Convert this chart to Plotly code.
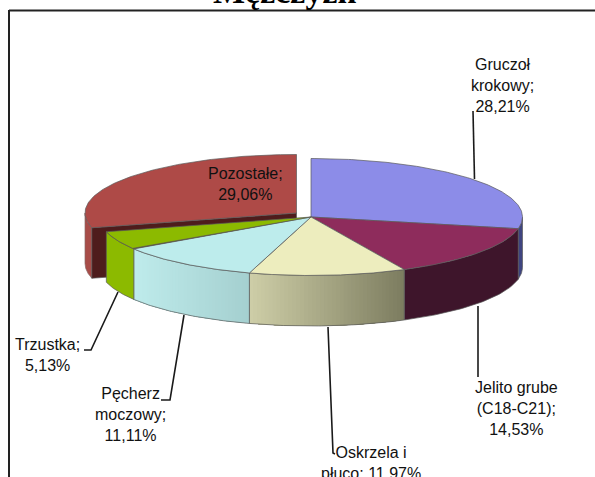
import numpy as np
import plotly.graph_objects as go

# ---- data ----
categories = ["Gruczoł krokowy", "Jelito grube (C18-C21)", "Oskrzela i płuco",
              "Pęcherz moczowy", "Trzustka", "Pozostałe"]
values = [28.21, 14.53, 11.97, 11.11, 5.13, 29.06]
value_labels = ["28,21%", "14,53%", "11,97%", "11,11%", "5,13%", "29,06%"]
title_text = "Mężczyzn"

label_texts = ["Gruczoł<br>krokowy;<br>28,21%", "Jelito grube<br>(C18-C21);<br>14,53%",
               "Oskrzela i<br>płuco; 11,97%", "Pęcherz<br>moczowy;<br>11,11%",
               "Trzustka;<br>5,13%", "Pozostałe;<br>29,06%"]
label_pos = [(502, 85), (516.5, 408), (371, 463), (130, 414), (47, 355), (245, 184)]
leaders = [[(473, 111), (474.5, 179)], [(478, 306), (478, 377)],
           [(328, 327), (333, 453), (335, 454)], [(184, 315), (170, 400), (161, 400)],
           [(118, 292), (91, 350), (84, 350)]]

top_colors = ["#8c8ce8", "#8e2c5c", "#ededbe", "#bdecec", "#8cba00", "#ae4a47"]
wall_right = ["#3f4580", "#3e152b", "#7d7d60", "#a5d0d0", "#8cba00", "#a84c48"]
wall_left = ["#3f4580", "#3e152b", "#cfcfa8", "#bfecec", "#8cba00", "#a84c48"]
cut_color = "#4e1c1c"
edge = "#5a5a5a"

# ---- pie geometry ----
CX, CY = 311, 217
RX, RY = 211.5, 58.5
DEPTH = 50.5
EXPLODE = (-14.5, -4)


def ell(a, cx, cy, dy=0.0):
    """a: clockwise degrees from 12 o'clock"""
    r = np.radians(a)
    return cx + RX * np.sin(r), cy - RY * np.cos(r) + dy


def hexrgb(h):
    return np.array([int(h[i:i + 2], 16) for i in (1, 3, 5)], float)


def poly(fig, xs, ys, fill, line=None, width=0.7):
    xs, ys = list(xs), list(ys)
    fig.add_trace(go.Scatter(x=xs + xs[:1], y=ys + ys[:1], mode="lines", fill="toself", fillcolor=fill,
                             line=dict(color=line or "rgba(0,0,0,0)", width=width if line else 0),
                             hoverinfo="skip", showlegend=False))


def wall(fig, a0, a1, cx, cy, c_right, c_left, outline=edge):
    """visible outer wall between angles a0..a1 (only the front half, 90..270)."""
    lo, hi = max(a0, 90), min(a1, 270)
    if hi <= lo:
        return
    strips = 40 if c_right != c_left else 1
    c1, c2 = hexrgb(c_right), hexrgb(c_left)
    x0, x1 = ell(lo, cx, cy)[0], ell(hi, cx, cy)[0]
    edges = np.linspace(lo, hi, strips + 1)
    # painted right to left; each strip reaches the slice's left end, so no seams
    for s, e in zip(edges[:-1], edges[1:]):
        aa = np.linspace(s, hi, 40)
        xt, yt = ell(aa, cx, cy)
        xb, yb = ell(aa[::-1], cx, cy, DEPTH)
        t = (ell((s + e) / 2, cx, cy)[0] - x0) / (x1 - x0)
        col = c1 + (c2 - c1) * t
        poly(fig, np.r_[xt, xb], np.r_[yt, yb], "rgb(%d,%d,%d)" % tuple(col))
    aa = np.linspace(lo, hi, 60)
    xt, yt = ell(aa, cx, cy)
    xb, yb = ell(aa[::-1], cx, cy, DEPTH)
    fig.add_trace(go.Scatter(x=np.r_[xt, xb, xt[0]], y=np.r_[yt, yb, yt[0]], mode="lines",
                             line=dict(color=outline, width=0.7), hoverinfo="skip", showlegend=False))


def top(fig, a0, a1, cx, cy, color):
    aa = np.linspace(a0, a1, 120)
    x, y = ell(aa, cx, cy)
    poly(fig, np.r_[cx, x], np.r_[cy, y], color, edge, 0.7)


fig = go.Figure()

# leader lines
for pts in leaders:
    fig.add_trace(go.Scatter(x=[p[0] for p in pts], y=[p[1] for p in pts], mode="lines",
                             line=dict(color="#1a1a1a", width=1.6), hoverinfo="skip",
                             showlegend=False))

shares = np.array(values) / sum(values) * 360
stops = np.r_[0, np.cumsum(shares)]

# exploded slice: last value
ex_cx, ex_cy = CX + EXPLODE[0], CY + EXPLODE[1]
a0, a1 = stops[5], stops[6]
wall(fig, a0, a1, ex_cx, ex_cy, wall_right[5], wall_left[5], outline="#8a6a68")
px, py = ell(a0, ex_cx, ex_cy)
poly(fig, [ex_cx, px, px, ex_cx], [ex_cy, py, py + DEPTH, ex_cy + DEPTH], cut_color, edge, 0.7)
top(fig, a0, a1, ex_cx, ex_cy, top_colors[5])

# main body walls, then the tops
for i in range(5):
    wall(fig, stops[i], stops[i + 1], CX, CY, wall_right[i], wall_left[i])
for i in range(5):
    top(fig, stops[i], stops[i + 1], CX, CY, top_colors[i])

annotations = [dict(x=x, y=y, text=t, showarrow=False, xanchor="center", yanchor="middle",
                    align="center", font=dict(family="Liberation Sans, Arial", size=16, color="#111111"))
               for t, (x, y) in zip(label_texts, label_pos)]
annotations.append(dict(x=284.5, y=12, text="<b>%s</b>" % title_text, showarrow=False, xanchor="center",
                        yanchor="bottom", font=dict(family="Liberation Serif, Times New Roman", size=34, color="#000000")))

shapes = [dict(type="line", x0=9, x1=595, y0=10.5, y1=10.5, line=dict(color="#222222", width=2)),
          dict(type="line", x0=9, x1=9, y0=10, y1=477, line=dict(color="#222222", width=2))]

fig.update_layout(
    width=595, height=477, margin=dict(l=0, r=0, t=0, b=0),
    paper_bgcolor="white", plot_bgcolor="white", showlegend=False,
    xaxis=dict(range=[0, 595], visible=False, fixedrange=True),
    yaxis=dict(range=[477, 0], visible=False, fixedrange=True),
    annotations=annotations, shapes=shapes,
)
fig.write_html("out.html", config={"displayModeBar": False},
               post_script="document.body.style.margin='0';document.documentElement.style.overflow='hidden';")
